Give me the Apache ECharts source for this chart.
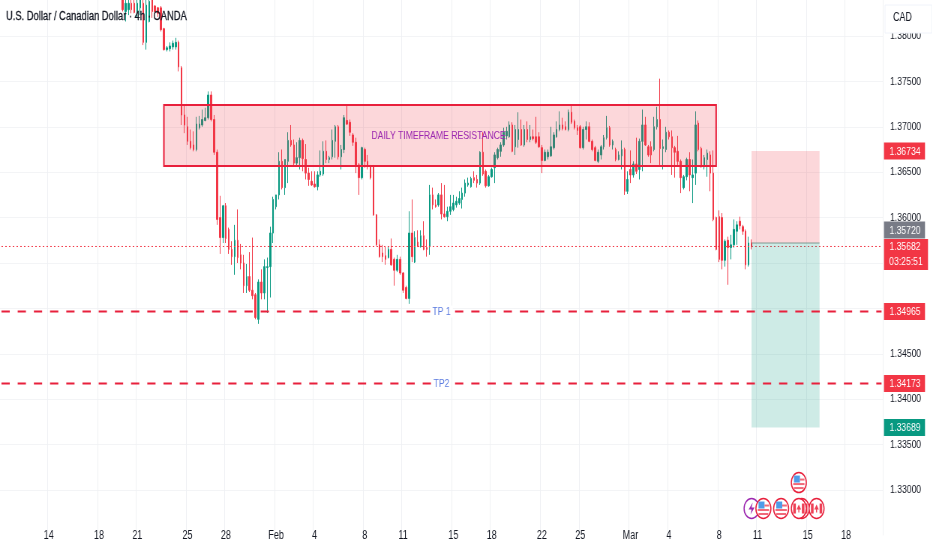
<!DOCTYPE html>
<html>
<head>
<meta charset="utf-8">
<style>
html,body{margin:0;padding:0;background:#fff;width:932px;height:550px;overflow:hidden}
#c{width:1243px;height:550px;transform:scaleX(0.75);transform-origin:0 0}
</style>
<script src="https://cdn.jsdelivr.net/npm/echarts@6/dist/echarts.min.js"></script>
</head>
<body>
<div id="c"></div>
<script>
// ---- data ----
const titleText = 'U.S. Dollar / Canadian Dollar · 4h · OANDA';
const currencyText = 'CAD';
const barCount = 299;
const firstCandleBar = 41;

const xTickLabels = ['14','18','21','25','28','Feb','4','8','11','15','18','22','25','Mar','4','8','11','15','18'];
const xTickBars = [16,33,46,63,76,93,106,123,136,153,166,183,196,213,226,243,256,273,286];

const opens = [
1.3840,1.3827,1.3829,1.3836,1.3836,1.3826,1.3831,1.3836,1.3793,1.3816,
1.3840,1.3833,1.3831,1.3831,1.3808,1.3785,1.3786,1.3788,1.3788,1.3793,
1.3765,1.3713,1.3700,1.3684,1.3680,1.3675,1.3699,1.3702,1.3707,1.3710,
1.3735,1.3708,1.3672,1.3600,1.3578,1.3613,1.3587,1.3565,1.3557,1.3575,
1.3559,1.3550,1.3525,1.3535,1.3520,1.3515,1.3488,1.3529,1.3517,1.3545,
1.3546,1.3583,1.3612,1.3625,1.3662,1.3633,1.3662,1.3685,1.3680,1.3660,
1.3666,1.3685,1.3664,1.3649,1.3640,1.3637,1.3634,1.3647,1.3648,1.3673,
1.3664,1.3667,1.3684,1.3700,1.3667,1.3675,1.3707,1.3705,1.3691,1.3683,
1.3658,1.3644,1.3675,1.3662,1.3656,1.3656,1.3603,1.3570,1.3561,1.3558,
1.3556,1.3565,1.3554,1.3542,1.3554,1.3539,1.3523,1.3511,1.3583,1.3551,
1.3573,1.3568,1.3580,1.3567,1.3568,1.3625,1.3614,1.3614,1.3625,1.3604,
1.3601,1.3607,1.3609,1.3614,1.3616,1.3620,1.3627,1.3636,1.3634,1.3644,
1.3642,1.3638,1.3672,1.3651,1.3635,1.3645,1.3655,1.3666,1.3673,1.3680,
1.3690,1.3689,1.3702,1.3678,1.3686,1.3697,1.3680,1.3697,1.3686,1.3689,
1.3689,1.3689,1.3677,1.3663,1.3667,1.3668,1.3677,1.3689,1.3697,1.3702,
1.3700,1.3697,1.3716,1.3706,1.3699,1.3700,1.3677,1.3697,1.3700,1.3684,
1.3677,1.3662,1.3669,1.3678,1.3688,1.3699,1.3680,1.3675,1.3664,1.3668,
1.3675,1.3629,1.3653,1.3647,1.3659,1.3653,1.3684,1.3702,1.3678,1.3678,
1.3675,1.3700,1.3708,1.3676,1.3675,1.3694,1.3689,1.3677,1.3673,1.3662,
1.3633,1.3645,1.3664,1.3644,1.3649,1.3704,1.3676,1.3656,1.3664,1.3669,
1.3649,1.3600,1.3601,1.3600,1.3553,1.3575,1.3567,1.3570,1.3585,1.3596,
1.3590,1.3585,1.3548,1.3572];

const closes = [
1.3829,1.3836,1.3836,1.3829,1.3826,1.3836,1.3840,1.3793,1.3834,1.3838,
1.3827,1.3827,1.3825,1.3807,1.3785,1.3787,1.3789,1.3792,1.3793,1.3766,
1.3713,1.3702,1.3684,1.3677,1.3675,1.3703,1.3703,1.3708,1.3710,1.3735,
1.3708,1.3672,1.3598,1.3578,1.3613,1.3577,1.3565,1.3557,1.3575,1.3556,
1.3550,1.3525,1.3535,1.3520,1.3514,1.3490,1.3529,1.3517,1.3546,1.3546,
1.3583,1.3620,1.3625,1.3662,1.3633,1.3664,1.3685,1.3680,1.3660,1.3666,
1.3685,1.3665,1.3649,1.3642,1.3636,1.3634,1.3647,1.3651,1.3673,1.3664,
1.3666,1.3685,1.3700,1.3667,1.3675,1.3710,1.3703,1.3694,1.3683,1.3658,
1.3644,1.3677,1.3662,1.3656,1.3644,1.3603,1.3570,1.3557,1.3557,1.3554,
1.3565,1.3548,1.3542,1.3554,1.3539,1.3520,1.3511,1.3583,1.3557,1.3578,
1.3568,1.3580,1.3565,1.3565,1.3625,1.3614,1.3612,1.3625,1.3604,1.3601,
1.3607,1.3612,1.3616,1.3618,1.3621,1.3627,1.3638,1.3638,1.3643,1.3641,
1.3638,1.3672,1.3648,1.3635,1.3645,1.3653,1.3669,1.3675,1.3680,1.3694,
1.3695,1.3702,1.3673,1.3697,1.3697,1.3680,1.3697,1.3686,1.3689,1.3687,
1.3683,1.3678,1.3663,1.3672,1.3672,1.3678,1.3691,1.3697,1.3702,1.3698,
1.3697,1.3716,1.3705,1.3699,1.3696,1.3677,1.3697,1.3700,1.3684,1.3675,
1.3663,1.3672,1.3678,1.3688,1.3699,1.3680,1.3684,1.3664,1.3669,1.3675,
1.3629,1.3642,1.3647,1.3659,1.3651,1.3684,1.3702,1.3680,1.3669,1.3669,
1.3700,1.3708,1.3676,1.3678,1.3694,1.3689,1.3677,1.3672,1.3662,1.3644,
1.3645,1.3664,1.3647,1.3647,1.3702,1.3675,1.3656,1.3666,1.3671,1.3649,
1.3598,1.3565,1.3554,1.3553,1.3574,1.3567,1.3570,1.3587,1.3592,1.3591,
1.3585,1.3548,1.3572,1.3568];

const lows = [
1.3827,1.3816,1.3823,1.3825,1.3825,1.3820,1.3823,1.3790,1.3785,1.3815,
1.3820,1.3825,1.3821,1.3805,1.3784,1.3783,1.3783,1.3785,1.3785,1.3761,
1.3702,1.3693,1.3680,1.3675,1.3673,1.3673,1.3697,1.3700,1.3706,1.3708,
1.3706,1.3669,1.3592,1.3560,1.3572,1.3572,1.3560,1.3548,1.3537,1.3550,
1.3543,1.3517,1.3517,1.3518,1.3510,1.3488,1.3483,1.3510,1.3510,1.3495,
1.3512,1.3572,1.3609,1.3620,1.3631,1.3625,1.3638,1.3678,1.3658,1.3656,
1.3653,1.3651,1.3642,1.3635,1.3635,1.3633,1.3630,1.3645,1.3646,1.3660,
1.3660,1.3664,1.3666,1.3664,1.3653,1.3671,1.3702,1.3690,1.3679,1.3649,
1.3625,1.3642,1.3655,1.3653,1.3642,1.3602,1.3569,1.3556,1.3551,1.3548,
1.3555,1.3547,1.3525,1.3540,1.3537,1.3517,1.3510,1.3505,1.3551,1.3550,
1.3568,1.3567,1.3564,1.3557,1.3559,1.3609,1.3611,1.3612,1.3598,1.3600,
1.3596,1.3603,1.3607,1.3611,1.3614,1.3610,1.3623,1.3634,1.3633,1.3638,
1.3633,1.3636,1.3646,1.3633,1.3634,1.3644,1.3638,1.3664,1.3667,1.3678,
1.3686,1.3688,1.3672,1.3669,1.3677,1.3679,1.3678,1.3683,1.3683,1.3685,
1.3681,1.3677,1.3649,1.3662,1.3664,1.3667,1.3675,1.3688,1.3695,1.3696,
1.3696,1.3695,1.3703,1.3697,1.3691,1.3676,1.3675,1.3686,1.3683,1.3673,
1.3662,1.3660,1.3664,1.3675,1.3686,1.3678,1.3675,1.3662,1.3663,1.3653,
1.3625,1.3626,1.3638,1.3644,1.3648,1.3642,1.3651,1.3679,1.3667,1.3660,
1.3673,1.3697,1.3658,1.3653,1.3672,1.3686,1.3647,1.3644,1.3658,1.3627,
1.3631,1.3641,1.3629,1.3616,1.3636,1.3673,1.3655,1.3653,1.3645,1.3629,
1.3596,1.3564,1.3551,1.3543,1.3546,1.3526,1.3554,1.3567,1.3570,1.3587,
1.3581,1.3543,1.3546,1.3565];

const highs = [
1.3847,1.3843,1.3843,1.3842,1.3842,1.3843,1.3844,1.3842,1.3843,1.3843,
1.3843,1.3834,1.3832,1.3833,1.3809,1.3789,1.3793,1.3795,1.3798,1.3795,
1.3767,1.3724,1.3711,1.3697,1.3695,1.3711,1.3712,1.3719,1.3721,1.3739,
1.3739,1.3713,1.3675,1.3624,1.3614,1.3616,1.3589,1.3574,1.3592,1.3609,
1.3571,1.3559,1.3549,1.3562,1.3578,1.3517,1.3532,1.3543,1.3554,1.3556,
1.3590,1.3623,1.3625,1.3672,1.3675,1.3664,1.3694,1.3702,1.3686,1.3683,
1.3688,1.3687,1.3681,1.3655,1.3651,1.3651,1.3651,1.3674,1.3684,1.3685,
1.3668,1.3697,1.3702,1.3702,1.3680,1.3713,1.3724,1.3708,1.3693,1.3688,
1.3660,1.3678,1.3677,1.3669,1.3658,1.3658,1.3604,1.3576,1.3570,1.3568,
1.3568,1.3577,1.3556,1.3559,1.3557,1.3540,1.3525,1.3607,1.3620,1.3585,
1.3586,1.3586,1.3596,1.3576,1.3636,1.3633,1.3620,1.3627,1.3638,1.3636,
1.3612,1.3625,1.3625,1.3623,1.3629,1.3633,1.3642,1.3644,1.3645,1.3651,
1.3647,1.3673,1.3694,1.3653,1.3647,1.3655,1.3672,1.3677,1.3683,1.3699,
1.3700,1.3706,1.3705,1.3702,1.3716,1.3708,1.3702,1.3706,1.3702,1.3697,
1.3711,1.3694,1.3680,1.3675,1.3675,1.3700,1.3694,1.3706,1.3717,1.3710,
1.3706,1.3719,1.3723,1.3708,1.3702,1.3702,1.3700,1.3706,1.3705,1.3686,
1.3679,1.3675,1.3680,1.3691,1.3712,1.3701,1.3686,1.3677,1.3673,1.3685,
1.3677,1.3651,1.3674,1.3662,1.3688,1.3687,1.3719,1.3711,1.3680,1.3684,
1.3711,1.3722,1.3753,1.3686,1.3700,1.3696,1.3696,1.3679,1.3690,1.3664,
1.3647,1.3666,1.3672,1.3664,1.3717,1.3707,1.3678,1.3669,1.3675,1.3673,
1.3674,1.3601,1.3608,1.3605,1.3576,1.3579,1.3581,1.3598,1.3596,1.3601,
1.3592,1.3587,1.3579,1.3576];

// drawings: [start bar, end bar, upper price, lower price]
const zoneRect = [55, 242, 1.3724, 1.36568];
const riskRect = [254, 277, 1.36734, 1.35720];
const rewardRect = [254, 277, 1.35720, 1.33689];
const entryPrice = 1.35720;
const lastPrice = 1.35682;
const targetPrices = [1.34965, 1.34173];

const noteTexts = ['DAILY TIMEFRAME RESISTANCE', 'TP 1', 'TP2'];
const noteBars = [148, 149, 149];
const notePrices = [1.36896, 1.34965, 1.34173];
const noteColors = ['#9c27b0', '#5b7be0', '#5b7be0'];

const tagPrices = [1.36734, 1.35720, 1.35682, 1.34965, 1.34173, 1.33689];
const tagTexts = ['1.36734', '1.35720', '1.35682', '1.34965', '1.34173', '1.33689'];
const tagColors = ['#f23645', '#787b86', '#f23645', '#f23645', '#f23645', '#089981'];
const countdownText = '03:25:51';

const eventBars = [254, 271, 270, 258, 264, 276, 270];
const eventPrices = [1.32796, 1.32796, 1.32796, 1.32796, 1.32796, 1.32796, 1.33082];
const eventKinds = ['bolt', 'ca', 'ca', 'us', 'us', 'ca', 'us'];

// ---- chart ----
// the reference is horizontally squeezed: the chart is laid out wider and the page squeezes it
const SQUEEZE = 0.75;
const px = x => x / SQUEEZE;
const RED = '#f23645', GREEN = '#089981', LINE_RED = '#e8203c';
const FONT = '"Liberation Sans", sans-serif';
const categories = [];
for (let i = 0; i < barCount; i++) {
  const k = xTickBars.indexOf(i);
  categories.push(k >= 0 ? xTickLabels[k] : '·' + i);
}
const isTick = i => xTickBars.indexOf(i) >= 0;
const candles = opens.map((o, i) => [firstCandleBar + i, o, closes[i], lows[i], highs[i]]);

function rectItem(api, r, fill, stroke) {
  const a = api.coord([r[0], r[2]]), b = api.coord([r[1], r[3]]);
  return {
    type: 'rect',
    shape: { x: a[0], y: a[1], width: b[0] - a[0], height: b[1] - a[1] },
    style: { fill: fill, stroke: stroke || null, lineWidth: stroke ? 2 : 0 }
  };
}
function hLine(api, x0, x1, price, style) {
  const a = api.coord([x0, price]), b = api.coord([x1, price]);
  return { type: 'line', shape: { x1: a[0], y1: a[1], x2: b[0], y2: b[1] }, style: style };
}

const ch = echarts.init(document.getElementById('c'), null, { renderer: 'canvas', width: 1243, height: 550 });
ch.setOption({
  animation: false,
  backgroundColor: '#ffffff',
  title: {
    text: titleText, left: px(6), top: 10, padding: 0,
    textStyle: { fontFamily: FONT, fontSize: 12.5, fontWeight: 'normal', color: '#131722', textBorderColor: '#131722', textBorderWidth: 0.3 }
  },
  grid: { left: 0, top: -9.4, width: px(883), height: 544.8, containLabel: false, outerBoundsMode: 'none' },
  xAxis: {
    type: 'category', data: categories, boundaryGap: true,
    axisLine: { show: false }, axisTick: { show: false },
    axisLabel: {
      interval: (i) => isTick(i), margin: 0, verticalAlign: 'middle', hideOverlap: false,
      fontFamily: FONT, fontSize: 12, color: '#131722'
    },
    splitLine: { show: true, interval: (i) => isTick(i), lineStyle: { color: '#eff1f4', width: 1 } }
  },
  yAxis: {
    type: 'value', position: 'right', min: 1.325, max: 1.385, interval: 0.005, scale: true,
    axisLine: { show: false }, axisTick: { show: false },
    axisLabel: {
      margin: px(7), showMinLabel: false, showMaxLabel: false, align: 'left',
      fontFamily: FONT, fontSize: 11.5, color: '#131722',
      formatter: v => v.toFixed(5)
    },
    splitLine: { show: true, showMinLine: false, lineStyle: { color: '#f3f4f6', width: 1 } }
  },
  series: [
    {
      type: 'candlestick', data: candles, barWidth: 2, silent: true, z: 2,
      encode: { x: 0, y: [1, 2, 3, 4] },
      itemStyle: { color: GREEN, color0: RED, borderColor: GREEN, borderColor0: RED, borderWidth: 1 }
    },
    {
      // price lines, target lines, drawings
      type: 'custom', silent: true, z: 3, clip: false,
      data: [[0, 1.36]], encode: { x: 0, y: 1 },
      renderItem: (p, api) => ({
        type: 'group',
        children: [
          hLine(api, 0, barCount - 1, lastPrice, { stroke: RED, lineWidth: 1, lineDash: [2, 3] }),
          rectItem(api, riskRect, 'rgba(242,54,69,0.2)'),
          rectItem(api, rewardRect, 'rgba(8,153,129,0.2)'),
          hLine(api, riskRect[0], riskRect[1], entryPrice, { stroke: '#7f9a92', lineWidth: 1 }),
          rectItem(api, zoneRect, 'rgba(242,54,69,0.2)', LINE_RED)
        ].concat(targetPrices.map(tp =>
          hLine(api, 0, barCount - 1, tp, { stroke: LINE_RED, lineWidth: 2, lineDash: [11, 10.6] })
        ))
      })
    },
    {
      // notes on the chart
      type: 'custom', silent: true, z: 4, clip: false,
      data: noteTexts.map((t, i) => [noteBars[i], notePrices[i]]), encode: { x: 0, y: 1 },
      renderItem: (p, api) => {
        const i = p.dataIndex, c = api.coord([noteBars[i], notePrices[i]]);
        return {
          type: 'text', x: c[0], y: c[1],
          style: {
            text: noteTexts[i], fill: noteColors[i], font: '11.5px ' + FONT,
            align: 'center', verticalAlign: 'middle',
            backgroundColor: i > 0 ? '#ffffff' : undefined, padding: i > 0 ? [0, 3] : 0
          }
        };
      }
    },
    {
      // price tags on the right scale
      type: 'custom', silent: true, z: 5, clip: false,
      data: tagPrices.map((v, i) => [0, v]), encode: { x: 0, y: 1 },
      renderItem: (p, api) => {
        const i = p.dataIndex, y = api.coord([0, tagPrices[i]])[1];
        const isLast = tagTexts[i] === '1.35682', isEntry = tagTexts[i] === '1.35720';
        const cy = isEntry ? y - 13 : y;
        const children = [{
          type: 'rect',
          shape: { x: px(884), y: isLast ? cy - 7.5 : cy - 8.5, width: px(isLast ? 44 : 41), height: isLast ? 31 : 17 },
          style: { fill: tagColors[i] }
        }, {
          type: 'text', x: px(905), y: cy + 0.5,
          style: { text: tagTexts[i], fill: '#fff', font: '11.5px ' + FONT, align: 'center', verticalAlign: 'middle' }
        }];
        if (isLast) children.push({
          type: 'text', x: px(906), y: cy + 15,
          style: { text: countdownText, fill: '#fff', font: '11.5px ' + FONT, align: 'center', verticalAlign: 'middle' }
        });
        return { type: 'group', children };
      }
    },
    {
      // calendar event badges
      type: 'custom', silent: true, z: 6, clip: false,
      data: eventBars.map((b, i) => [b, eventPrices[i]]), encode: { x: 0, y: 1 },
      renderItem: (p, api) => {
        const i = p.dataIndex, c = api.coord([eventBars[i], eventPrices[i]]);
        const x = c[0], y = c[1], k = eventKinds[i];
        const ring = k === 'bolt' ? '#9c27b0' : LINE_RED;
        const kids = [{
          type: 'circle', shape: { cx: x, cy: y, r: 10 },
          style: { fill: '#fff', stroke: ring, lineWidth: 1.5 }
        }];
        if (k === 'us') {
          kids.push(
            { type: 'rect', shape: { x: x - 7.5, y: y + 0.5, width: 15, height: 2 }, style: { fill: '#f06a7a' } },
            { type: 'rect', shape: { x: x - 6.5, y: y + 4.5, width: 13, height: 2 }, style: { fill: '#f06a7a' } },
            { type: 'rect', shape: { x: x - 6.5, y: y - 7, width: 8, height: 7 }, style: { fill: '#4f9be8' } },
            { type: 'rect', shape: { x: x + 1.5, y: y - 4, width: 6, height: 2 }, style: { fill: '#f06a7a' } }
          );
        } else if (k === 'ca') {
          kids.push(
            { type: 'rect', shape: { x: x - 7.5, y: y - 5, width: 3.5, height: 10 }, style: { fill: '#ee4055' } },
            { type: 'rect', shape: { x: x + 4, y: y - 5, width: 3.5, height: 10 }, style: { fill: '#ee4055' } },
            { type: 'polygon', shape: { points: [[x, y - 4], [x + 3, y + 1], [x + 0.7, y + 1], [x + 0.7, y + 4], [x - 0.7, y + 4], [x - 0.7, y + 1], [x - 3, y + 1]] }, style: { fill: '#ee4055' } }
          );
        } else {
          kids.push({ type: 'polygon', shape: { points: [[x + 1.5, y - 6], [x - 4, y + 1], [x, y + 1], [x - 1.5, y + 6], [x + 4, y - 1], [x, y - 1]] }, style: { fill: '#9c27b0' } });
        }
        return { type: 'group', children: kids };
      }
    }
  ],
  graphic: [
    { type: 'rect', z: 100, shape: { x: px(885), y: 5, width: px(47), height: 28 }, style: { fill: '#fff', stroke: '#f0f3fa', lineWidth: 1 } },
    { type: 'text', z: 101, x: px(893), y: 18, style: { text: currencyText, fill: '#131722', font: '12px ' + FONT, verticalAlign: 'middle' } }
  ]
});
</script>
</body>
</html>
